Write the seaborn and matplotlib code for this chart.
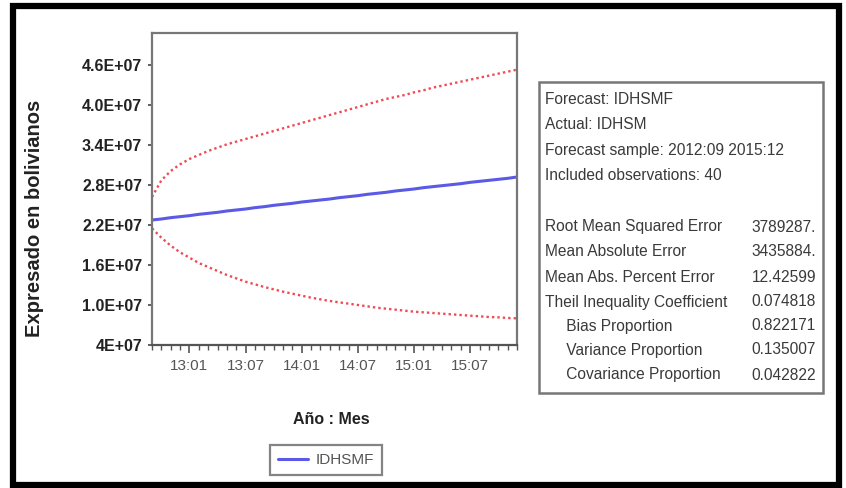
import numpy as np
import pandas as pd
import matplotlib
matplotlib.use("Agg")
import matplotlib.pyplot as plt
from matplotlib.patches import Rectangle
from matplotlib.lines import Line2D
import seaborn as sns

# ---- data (values in millions of bolivianos) ----
months = ["12:09","12:10","12:11","12:12","13:01","13:02","13:03","13:04","13:05","13:06",
          "13:07","13:08","13:09","13:10","13:11","13:12","14:01","14:02","14:03","14:04",
          "14:05","14:06","14:07","14:08","14:09","14:10","14:11","14:12","15:01","15:02",
          "15:03","15:04","15:05","15:06","15:07","15:08","15:09","15:10","15:11","15:12"]
forecast = [22.75, 22.9, 23.1, 23.25, 23.4, 23.6, 23.75, 23.9, 24.1, 24.25,
            24.4, 24.6, 24.75, 24.95, 25.1, 25.25, 25.45, 25.6, 25.75, 25.9,
            26.1, 26.25, 26.4, 26.6, 26.75, 26.9, 27.1, 27.25, 27.4, 27.6,
            27.75, 27.9, 28.05, 28.2, 28.4, 28.55, 28.7, 28.85, 29.0, 29.2]
upper = [26.2, 28.7, 30.1, 31.1, 31.9, 32.5, 33.1, 33.6, 34.1, 34.5,
         34.9, 35.3, 35.7, 36.1, 36.5, 36.9, 37.3, 37.7, 38.1, 38.5,
         38.9, 39.3, 39.7, 40.1, 40.5, 40.9, 41.2, 41.5, 41.9, 42.2,
         42.6, 42.9, 43.2, 43.5, 43.8, 44.1, 44.4, 44.7, 45.0, 45.3]
lower = [21.5, 20.1, 18.9, 17.9, 17.1, 16.3, 15.7, 15.1, 14.5, 14.0,
         13.5, 13.1, 12.7, 12.35, 12.0, 11.7, 11.4, 11.1, 10.85, 10.6,
         10.4, 10.2, 10.0, 9.8, 9.6, 9.45, 9.3, 9.15, 9.0, 8.9,
         8.8, 8.7, 8.6, 8.5, 8.4, 8.3, 8.2, 8.15, 8.05, 8.0]

ytick_values = [4e6, 10e6, 16e6, 22e6, 28e6, 34e6, 40e6, 46e6]
ytick_labels = ["4E+07", "1.0E+07", "1.6E+07", "2.2E+07", "2.8E+07", "3.4E+07", "4.0E+07", "4.6E+07"]
xtick_labels = ["13:01", "13:07", "14:01", "14:07", "15:01", "15:07"]

stats_names = ["Root Mean Squared Error", "Mean Absolute Error", "Mean Abs. Percent Error",
               "Theil Inequality Coefficient", "     Bias Proportion",
               "     Variance Proportion", "     Covariance Proportion"]
stats_values = ["3789287.", "3435884.", "12.42599", "0.074818", "0.822171", "0.135007", "0.042822"]
header_lines = ["Forecast: IDHSMF", "Actual: IDHSM", "Forecast sample: 2012:09 2015:12",
                "Included observations: 40"]

# ---- build frame ----
idx = np.arange(len(months))
df = pd.DataFrame({"i": idx, "month": months,
                   "IDHSMF": np.array(forecast) * 1e6,
                   "upper": np.array(upper) * 1e6,
                   "lower": np.array(lower) * 1e6})

sns.set_style("white")
plt.rcParams["font.family"] = ["Liberation Sans", "DejaVu Sans"]

W, H = 846, 488
fig = plt.figure(figsize=(W / 100, H / 100), dpi=100)

def fx(px):
    return px / W

def fy(py):
    return 1 - py / H

ax = fig.add_axes([fx(152), fy(345), fx(517) - fx(152), fy(33) - fy(345)])

red = "#f04a55"
sns.lineplot(data=df, x="i", y="upper", ax=ax, color=red, linestyle=(0, (1, 1.3)), linewidth=1.7)
sns.lineplot(data=df, x="i", y="lower", ax=ax, color=red, linestyle=(0, (1, 1.3)), linewidth=1.7)
sns.lineplot(data=df, x="i", y="IDHSMF", ax=ax, color="#5a5ae6", linewidth=2.2)

ax.set_xlim(0, len(months) - 1)
ax.set_ylim(4e6, 50.8e6)
ax.set_xlabel("")
ax.set_ylabel("")

xt_pos = [months.index(m) for m in xtick_labels]
ax.set_xticks(xt_pos)
ax.set_xticklabels(xtick_labels, fontsize=11, color="#555555")
ax.set_xticks(idx, minor=True)
ax.tick_params(axis="x", which="major", direction="out", length=6, width=1.2, color="#555555", pad=4, bottom=True)
ax.tick_params(axis="x", which="minor", direction="out", length=3.5, width=1.0, color="#555555", bottom=True)

ax.set_yticks(ytick_values)
ax.set_yticklabels(ytick_labels, fontsize=11.5, fontweight="bold", color="#222222")
ax.tick_params(axis="y", which="major", direction="out", length=3, width=1.2, color="#444444", pad=4, left=True)

for s in ax.spines.values():
    s.set_visible(True)
    s.set_color("#777777")
    s.set_linewidth(1.6)
ax.spines["bottom"].set_color("#555555")

# axis labels
fig.text(fx(34), fy(218), "Expresado en bolivianos", rotation=90, ha="center", va="center",
         fontsize=14.5, fontweight="bold", color="#222222")
fig.text(fx(331), fy(420), "Año : Mes", ha="center", va="center", fontsize=11.5,
         fontweight="bold", color="#222222")

# legend
handle = Line2D([], [], color="#5a5ae6", linewidth=2.2)
leg = fig.legend([handle], ["IDHSMF"], loc="center", bbox_to_anchor=(fx(326), fy(460)),
                 frameon=True, fancybox=False, handlelength=2.0, handletextpad=0.5,
                 borderpad=0.5, borderaxespad=0, prop={"size": 11})
leg.get_frame().set_edgecolor("#666666")
leg.get_frame().set_linewidth(1.6)
for t in leg.get_texts():
    t.set_color("#555555")

# stats box
fig.patches.append(Rectangle((fx(539), fy(393)), fx(823) - fx(539), fy(82) - fy(393),
                             transform=fig.transFigure, fill=False, edgecolor="#777777",
                             linewidth=1.8))
fs = 11.2
row_y = [100, 125, 150, 175]
for yy, txt in zip(row_y, header_lines):
    fig.text(fx(545), fy(yy), txt, ha="left", va="center", fontsize=fs, color="#3a3a3a")
stat_y = [227, 252, 277, 302, 326, 350, 375]
for yy, name, val in zip(stat_y, stats_names, stats_values):
    fig.text(fx(545), fy(yy), name, ha="left", va="center", fontsize=fs, color="#3a3a3a")
    fig.text(fx(816), fy(yy), val, ha="right", va="center", fontsize=fs, color="#3a3a3a")

# outer black frame
fig.patches.append(Rectangle((fx(13), fy(485)), fx(839) - fx(13), fy(6) - fy(485),
                             transform=fig.transFigure, fill=False, edgecolor="black",
                             linewidth=4.5))

fig.savefig("out.png", dpi=100)
